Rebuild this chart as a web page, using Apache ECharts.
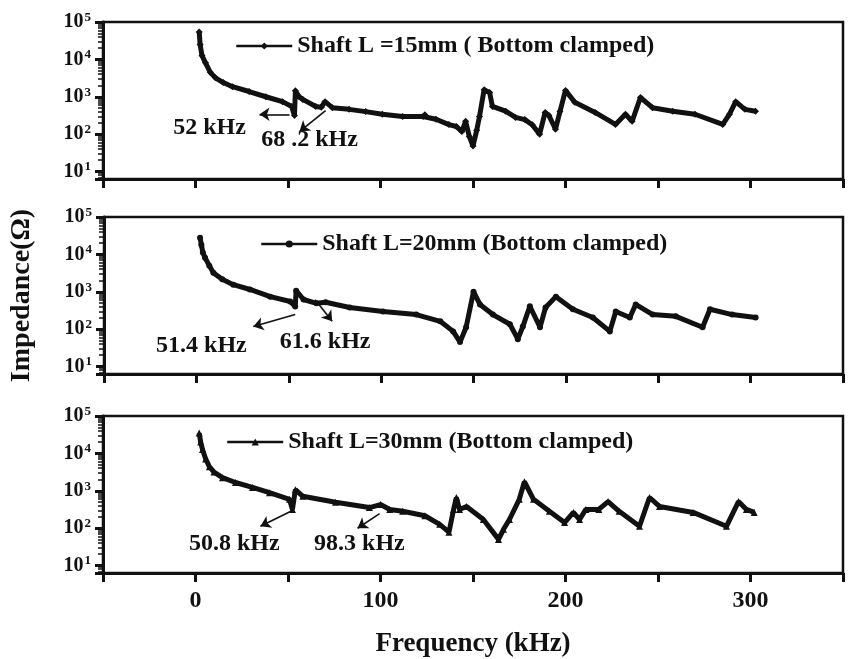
<!DOCTYPE html>
<html>
<head>
<meta charset="utf-8">
<script src="https://cdn.jsdelivr.net/npm/echarts@6/dist/echarts.min.js"></script>
<style>html,body{margin:0;padding:0;background:#fff}#c{width:848px;height:659px}</style>
</head>
<body>
<div id="c"></div>
<script>
// ---------- DATA ----------
const seriesNames = ['Shaft L =15mm ( Bottom clamped)', 'Shaft L=20mm (Bottom clamped)', 'Shaft L=30mm (Bottom clamped)'];

const freq15 = [2,2.5,3.5,5.4,8,10.8,15,20,29,38,47,52,53.5,54,56,58,65,68,70,74,83,92,101,112,123,124,130,137,141,144,146,148,150,152,153.5,156,159,160.5,167.6,173,178,182,186,189,191,194.6,197,200,205,216,227,232.4,236,240.5,247,258,270,285,288.6,292,297,302.7];
const imp15  = [54000,25000,12600,8100,4500,3200,2400,1860,1380,1000,740,550,316,1450,1000,850,550,525,740,510,460,400,340,295,295,330,250,180,160,117,220,87,48,126,295,1550,1290,550,410,280,245,178,100,380,316,135,400,1480,710,380,182,340,220,955,510,410,340,182,340,740,460,410];

const freq20 = [2,2.7,3.5,4.7,7,9.2,14,20,29,40,50.8,53.5,54,58,65,70,83,101,119,132,139,142.7,146,150,153.5,160.5,169.7,174,176.7,180.5,186,189,194.6,203.8,214.6,223.8,227,234.6,237.8,247,259.5,274,278,290,302.7];
const imp20  = [28000,18000,11200,8100,5000,3200,2150,1550,1150,740,550,400,1070,620,490,525,380,295,245,162,87,45,112,1000,457,245,135,54,117,410,112,380,740,340,204,87,295,204,457,245,220,112,340,245,204];

const freq30 = [2,2.8,3.8,5.5,7.5,10,14.6,21.6,30.8,40,50.8,52.4,54,58,75.7,94,100,105,112,124,132,137,139.5,141,142.7,146.5,155.6,163.8,166.5,169.7,175,177.8,182.7,191.3,199.5,204.3,207.6,211,218,223,229,240,245.4,250.8,269,287,293.5,297.8,302];
const imp30  = [35000,20000,12600,7100,4400,3160,2240,1660,1230,890,590,316,1070,710,490,355,427,316,282,214,126,78,316,660,316,380,170,50,93,170,590,1740,590,282,141,263,170,316,316,513,282,112,660,380,263,112,513,316,263];

const xTicks = {min: -50, max: 350, interval: 50};
const xLabelValues = [0, 100, 200, 300];

// annotations: [label, labelF, labelZ, arrowFromF, arrowFromZ, arrowToF, arrowToZ]
const notes15 = [['52 kHz', 7.6, 150, 50.8, 340, 34.6, 340], ['68 .2 kHz', 61.6, 72, 70.3, 425, 56.2, 117]];
const notes20 = [['51.4 kHz', 2.7, 35, 53.5, 247, 30.8, 117], ['61.6 kHz', 69.7, 45, 64.3, 615, 73.5, 162]];
const notes30 = [['50.8 kHz', 21, 37, 52.4, 295, 35.1, 112], ['98.3 kHz', 88.6, 37, 99.5, 245, 87.6, 99]];

// ---------- CHART ----------
const FONT = '"Liberation Serif", "DejaVu Serif", serif';
const chart = echarts.init(document.getElementById('c'), null, {renderer: 'canvas'});

const gridTops = [22, 217, 416];
const gridH = 157;
const grids = gridTops.map(t => ({left: 103, right: 5, top: t, height: gridH, show: true, borderColor: '#111', borderWidth: 2.5, backgroundColor: 'transparent'}));

const xAxes = [0,1,2].map(i => ({
  type: 'value', gridIndex: i, min: xTicks.min, max: xTicks.max, interval: xTicks.interval,
  axisLine: {show: true, onZero: false, lineStyle: {color: '#111', width: 3}},
  axisTick: {show: true, inside: false, length: 9, lineStyle: {color: '#111', width: 3}},
  splitLine: {show: false},
  axisLabel: {show: i === 2, margin: 16, color: '#111', fontFamily: FONT, fontWeight: 'bold', fontSize: 24,
    formatter: v => xLabelValues.includes(v) ? String(v) : ''},
  name: i === 2 ? 'Frequency (kHz)' : '', nameLocation: 'middle', nameGap: 58,
  nameTextStyle: {color: '#111', fontFamily: FONT, fontWeight: 'bold', fontSize: 27}
}));

const yAxes = [0,1,2].map(i => ({
  type: 'log', logBase: 10, gridIndex: i, min: 6.3, max: 100000,
  axisLine: {show: true, onZero: false, lineStyle: {color: '#111', width: 3}},
  axisTick: {show: true, inside: false, length: 8, lineStyle: {color: '#111', width: 3}},
  minorTick: {show: true, splitNumber: 9, length: 5, lineStyle: {color: '#111', width: 1.5}},
  splitLine: {show: false}, minorSplitLine: {show: false},
  axisLabel: {margin: 12, color: '#111', fontFamily: FONT, fontWeight: 'bold', fontSize: 20, lineHeight: 22,
    formatter: v => {
      const l = Math.log10(v);
      if (Math.abs(l - Math.round(l)) < 1e-6 && Math.round(l) >= 1) return '10{s|' + Math.round(l) + '}';
      return '';
    },
    rich: {s: {fontFamily: FONT, fontWeight: 'bold', fontSize: 13, verticalAlign: 'top', lineHeight: 22, padding: [0, 0, 12, 1], color: '#111'}}
  },
  name: i === 1 ? 'Impedance(Ω)' : '', nameLocation: 'middle', nameGap: 68, nameRotate: 90,
  nameTextStyle: {color: '#111', fontFamily: FONT, fontSize: 28, fontWeight: 'bold'}
}));

function buildSeries(idx, freqs, imps, symbol, symSize, notes) {
  return {
    name: seriesNames[idx], type: 'line', xAxisIndex: idx, yAxisIndex: idx,
    data: freqs.map((f, k) => [f, imps[k]]),
    symbol: symbol, symbolSize: symSize, showSymbol: true,
    itemStyle: {color: '#111'},
    lineStyle: {color: '#111', width: 5},
    z: 3,
    markLine: {
      silent: true, symbol: ['none', 'arrow'], symbolSize: 10,
      lineStyle: {color: '#111', width: 1.6, type: 'solid'},
      label: {show: false},
      data: notes.map(n => [{coord: [n[3], n[4]], symbol: 'none'}, {coord: [n[5], n[6]], symbol: 'arrow', symbolSize: 10}])
    },
    markPoint: {
      silent: true, symbol: 'circle', symbolSize: 1, itemStyle: {color: 'rgba(0,0,0,0)'},
      label: {show: true, position: 'inside', color: '#111', fontFamily: FONT, fontWeight: 'bold', fontSize: 24, formatter: p => p.name},
      data: notes.map(n => ({name: n[0], coord: [n[1], n[2]]}))
    }
  };
}

const series = [
  buildSeries(0, freq15, imp15, 'diamond', 7, notes15),
  buildSeries(1, freq20, imp20, 'circle', 6, notes20),
  buildSeries(2, freq30, imp30, 'triangle', 7, notes30)
];

const legendPos = [[230, 29], [255, 227], [221, 425]];
const legends = [0,1,2].map(i => ({
  data: [seriesNames[i]], left: legendPos[i][0], top: legendPos[i][1],
  itemWidth: 56, itemHeight: 9, itemGap: 6,
  textStyle: {color: '#111', fontFamily: FONT, fontWeight: 'bold', fontSize: 24},
  itemStyle: {color: '#111'}, lineStyle: {width: 2.5, color: '#111'},
  selectedMode: false
}));

chart.setOption({
  animation: false,
  backgroundColor: '#fff',
  grid: grids, xAxis: xAxes, yAxis: yAxes, legend: legends, series: series
});
</script>
</body>
</html>
